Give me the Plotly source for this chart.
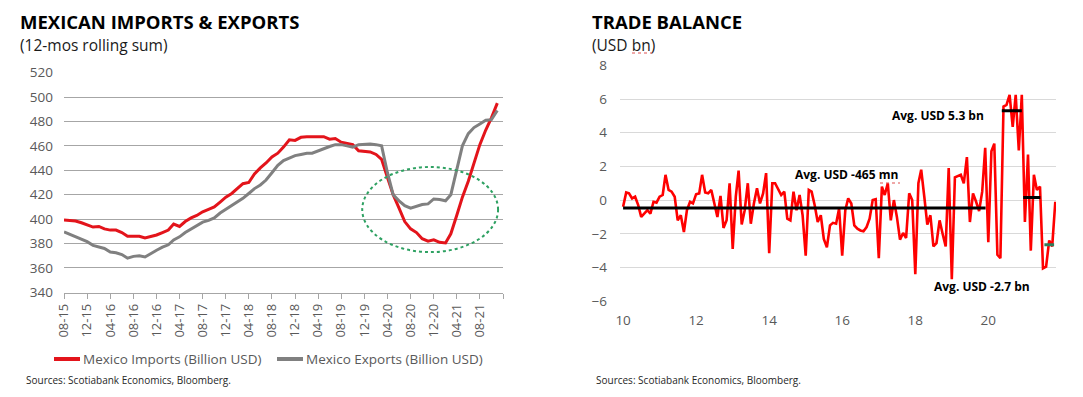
import plotly.graph_objects as go
import pandas as pd

# ---------------- Left chart data (12-mos rolling sum, USD bn) ----------------
left_start = "2015-08-01"
imports = [399.2, 399, 398.5, 397, 395, 393.5, 394, 392, 391, 391,
           389, 386, 386, 386, 384.5, 385.5, 387, 389, 391, 396,
           394, 398, 401, 403, 406, 408, 410, 414, 418, 421,
           425, 429, 430, 437, 442, 446, 451, 454, 459, 465,
           464.5, 467, 467.5, 467.5, 467.5, 467.5, 465.5, 466, 463, 462,
           461, 456, 455.5, 455, 453, 449, 434, 420, 409, 398,
           392, 389, 384, 382, 383, 381, 380.5, 388, 403, 418,
           431, 446, 461, 473, 483, 495]
exports = [389.5, 387.5, 385.5, 383.5, 381.5, 378.5, 377.5, 376, 373, 372.5,
           371, 368, 369.5, 370, 369, 372, 374.5, 377, 379, 383,
           385.5, 389, 392, 394.5, 397.5, 399, 401, 405, 408, 411,
           414, 417, 421, 425, 428, 432, 438, 444, 448, 450,
           452, 453, 454, 454, 456, 458, 459.5, 461, 461, 460,
           459, 461, 461.5, 461.5, 461, 460, 438, 420, 415, 411,
           409, 410.5, 412, 412.5, 416.5, 416, 415, 420, 440, 460,
           470, 475, 478, 481, 481.5, 489]
left_names = ["Mexico Imports (Billion USD)", "Mexico Exports (Billion USD)"]
left_tick_dates = ["2015-08-01", "2015-12-01", "2016-04-01", "2016-08-01", "2016-12-01",
                   "2017-04-01", "2017-08-01", "2017-12-01", "2018-04-01", "2018-08-01",
                   "2018-12-01", "2019-04-01", "2019-08-01", "2019-12-01", "2020-04-01",
                   "2020-08-01", "2020-12-01", "2021-04-01", "2021-08-01", "2021-12-01"]
left_tick_labels = ["08-15", "12-15", "04-16", "08-16", "12-16", "04-17", "08-17", "12-17",
                    "04-18", "08-18", "12-18", "04-19", "08-19", "12-19", "04-20", "08-20",
                    "12-20", "04-21", "08-21", ""]
left_y_ticks = [340, 360, 380, 400, 420, 440, 460, 480, 500, 520]

# ---------------- Right chart data (monthly trade balance, USD bn) ----------------
tb_start = "2010-01-01"
trade_balance = [
    -0.4, 0.45, 0.4, 0.1, 0.2, -0.3, -1.0, -0.8, -0.6, -0.8, -0.1, -0.15,      # 2010
    0.2, 0.3, 1.5, 0.6, 0.5, 0.2, -1.2, -0.9, -1.9, -0.6, -0.1, -0.2,          # 2011
    0.35, 0.4, 1.5, 0.45, 0.4, 0.6, -0.2, -1.0, 0.25, -1.65, -1.2, 1.0,        # 2012
    -2.9, 0.2, 1.75, -1.45, -0.6, 1.0, -1.4, -0.2, 0.7, -0.2, 0.4, 1.6,        # 2013
    -3.15, 1.0, 1.0, 0.6, 0.3, 0.5, -1.1, -1.2, 0.5, -0.6, 0.3, -0.9,          # 2014
    -3.3, 0.6, 0.5, -0.3, -1.3, -0.9, -2.3, -2.8, -1.5, -1.35, -1.4, -0.5,     # 2015
    -3.3, -0.6, 0.1, -0.2, -1.5, -1.7, -1.8, -1.85, -1.6, -1.1, 0.0, 0.05,     # 2016
    -3.45, 0.8, 0.3, 1.0, -1.2, 0.0, -1.0, -2.35, -1.95, -2.25, 0.4, 0.0,      # 2017
    -4.4, 1.0, 1.8, 0.2, -1.45, -0.9, -2.75, -2.55, -1.2, -2.0, -2.75, 1.9,    # 2018
    -4.7, 1.35, 1.4, 1.5, 1.0, 2.55, -1.3, 0.4, -0.1, -0.65, 0.5, 3.1,         # 2019
    -2.5, 2.9, 3.35, -3.25, -3.45, 5.55, 5.65, 6.25, 4.35, 6.25, 2.95, 6.25,   # 2020
    -1.3, 2.7, -3.0, 1.5, 0.6, 0.8, -4.05, -3.95, -2.4, -2.75, -0.1,           # 2021
]
tb_tick_dates = ["2010-01-01", "2012-01-01", "2014-01-01", "2016-01-01", "2018-01-01", "2020-01-01"]
tb_tick_labels = ["10", "12", "14", "16", "18", "20"]
tb_y_ticks = [-6, -4, -2, 0, 2, 4, 6, 8]

# period averages drawn as flat segments
avg_values = [-0.465, 5.3, 0.16, -2.65]
avg_start = ["2010-01-01", "2020-05-15", "2020-12-15", "2021-07-15"]
avg_end = ["2019-12-05", "2020-12-01", "2021-06-05", "2021-10-20"]
avg_colors = ["#000000", "#000000", "#000000", "#2e7d5b"]
avg_texts = ["Avg. USD -465 mn", "Avg. USD 5.3 bn", "", "Avg. USD -2.7 bn"]

left_dates = pd.date_range(left_start, periods=len(imports), freq="MS")
tb_dates = pd.date_range(tb_start, periods=len(trade_balance), freq="MS")

FONT = "Open Sans"
TICK_COLOR = "#595959"
IMP_COLOR, EXP_COLOR = "#e3141b", "#808080"
OFF = 8                     # page body margin of the viewer
W, H = 1083 - 2 * OFF, 397 - 2 * OFF

fig = go.Figure()
fig.add_trace(go.Scatter(x=left_dates, y=imports, mode="lines", name=left_names[0],
                         line=dict(color=IMP_COLOR, width=3), xaxis="x", yaxis="y"))
fig.add_trace(go.Scatter(x=left_dates, y=exports, mode="lines", name=left_names[1],
                         line=dict(color=EXP_COLOR, width=3), xaxis="x", yaxis="y"))
fig.add_trace(go.Scatter(x=tb_dates, y=trade_balance, mode="lines", name="Trade balance",
                         line=dict(color="#ff0000", width=2.6), xaxis="x2", yaxis="y2"))
for v, s, e, c in zip(avg_values, avg_start, avg_end, avg_colors):
    fig.add_trace(go.Scatter(x=[s, e], y=[v, v], mode="lines", line=dict(color=c, width=3),
                             xaxis="x2", yaxis="y2"))


def px_x(p):
    return (p - OFF) / W


def px_y(p):
    return 1 - (p - OFF) / H


fig.update_layout(
    width=W, height=H, showlegend=False,
    margin=dict(l=0, r=0, t=0, b=0, autoexpand=False),
    paper_bgcolor="white", plot_bgcolor="white",
    font=dict(family=FONT, color=TICK_COLOR, size=13),
    xaxis=dict(domain=[px_x(64), px_x(503)], type="date",
               range=["2015-08-01", "2021-12-01"],
               tickvals=left_tick_dates, ticktext=left_tick_labels, tickangle=-90,
               showgrid=False, showline=True, linecolor="#a6a6a6", linewidth=1,
               ticks="outside", ticklen=5, tickcolor="#a6a6a6", automargin=False,
               tickfont=dict(size=13, color=TICK_COLOR)),
    yaxis=dict(domain=[px_y(292.5), px_y(72.5)], range=[339.9, 520.1], tickvals=left_y_ticks,
               showgrid=True, gridcolor="#a6a6a6", gridwidth=1, zeroline=False, automargin=False,
               ticklabelstandoff=10, tickfont=dict(size=13.5, color=TICK_COLOR)),
    xaxis2=dict(domain=[px_x(620), px_x(1056)], type="date",
                range=["2009-12-01", "2021-11-08"],
                tickvals=tb_tick_dates, ticktext=tb_tick_labels, tickangle=0,
                showgrid=False, showline=False, ticks="", automargin=False,
                ticklabelstandoff=9,
                tickfont=dict(size=13.5, color=TICK_COLOR), anchor="y2"),
    yaxis2=dict(domain=[px_y(301.5), px_y(65)], range=[-6.02, 8.02], tickvals=tb_y_ticks,
                showgrid=True, gridcolor="#d9d9d9", gridwidth=1, zeroline=False, automargin=False,
                ticklabelstandoff=12, tickfont=dict(size=13.5, color=TICK_COLOR), anchor="x2"),
)

# dotted ellipse highlighting the pandemic dip
fig.add_shape(type="circle", xref="x", yref="y",
              x0="2019-11-20", x1="2021-11-05", y0=373, y1=442.7,
              line=dict(color="#2ea162", width=2, dash="dot"))

# spell-check style squiggles seen in the original
for x0, x1, y in [(632, 652, 53), (880, 900, 183)]:
    fig.add_shape(type="line", xref="paper", yref="paper",
                  x0=px_x(x0), x1=px_x(x1), y0=px_y(y), y1=px_y(y),
                  line=dict(color="#e05050", width=1.2, dash="dot"))

# legend keys (short thick lines) and labels
for (lx, tx), name, col in zip([(54, 81), (277, 304)], left_names, [IMP_COLOR, EXP_COLOR]):
    fig.add_shape(type="line", xref="paper", yref="paper",
                  x0=px_x(lx), x1=px_x(lx + 26), y0=px_y(359), y1=px_y(359),
                  line=dict(color=col, width=4))
    fig.add_annotation(text=name, xref="paper", yref="paper", x=px_x(tx), y=px_y(359),
                       xanchor="left", yanchor="middle", showarrow=False,
                       font=dict(size=13.5, color=TICK_COLOR, family=FONT))

# titles, subtitles and sources
texts = [
    ("MEXICAN IMPORTS & EXPORTS", 18, 22, 18.5, "#000000", True),
    ("(12-mos rolling sum)", 18, 45, 15.5, "#1a1a1a", False),
    ("TRADE BALANCE", 590, 22, 18.5, "#000000", True),
    ("(USD bn)", 590, 45, 15.5, "#1a1a1a", False),
    ("Sources: Scotiabank Economics, Bloomberg.", 24, 380, 10, "#262626", False),
    ("Sources: Scotiabank Economics, Bloomberg.", 594, 380, 10, "#262626", False),
]
for t, x, y, s, c, b in texts:
    fig.add_annotation(text=f"<b>{t}</b>" if b else t, xref="paper", yref="paper",
                       x=px_x(x), y=px_y(y), xanchor="left", yanchor="middle",
                       showarrow=False, font=dict(size=s, color=c, family=FONT))

# average labels
label_pos = [("2016-02-10", 1.5), ("2018-08-15", 5.05), None, ("2019-11-01", -5.12)]
for txt, pos in zip(avg_texts, label_pos):
    if not txt:
        continue
    fig.add_annotation(text=f"<b>{txt}</b>", xref="x2", yref="y2", x=pos[0], y=pos[1],
                       showarrow=False, xanchor="center", yanchor="middle",
                       font=dict(size=12, color="#000000", family=FONT))

fig.write_html("out.html")
